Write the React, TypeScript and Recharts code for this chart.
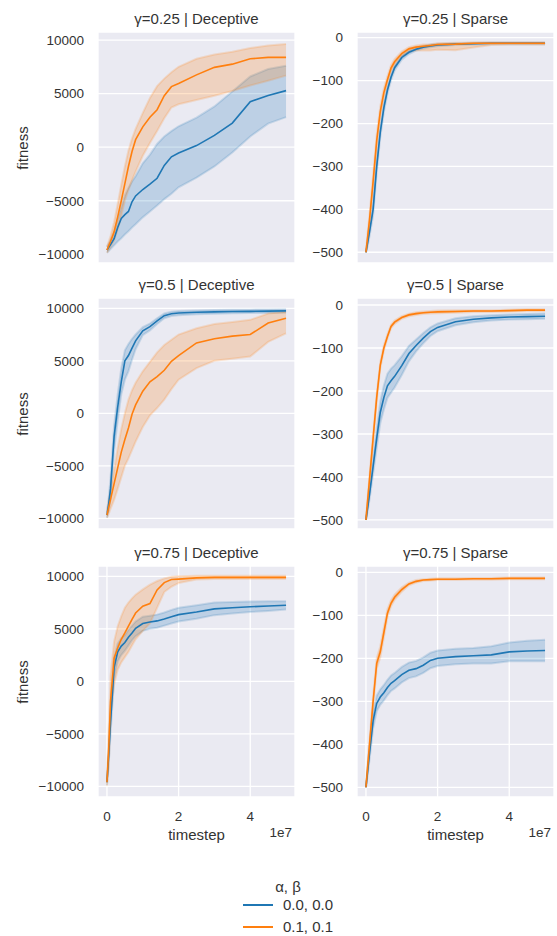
import React from 'react';
import { ComposedChart, Area, Line, XAxis, YAxis, CartesianGrid } from 'recharts';

const XS = [0, 0.05, 0.1, 0.2, 0.3, 0.4, 0.5, 0.6, 0.7, 0.8, 1.0, 1.2, 1.4, 1.6, 1.8, 2.0, 2.5, 3.0, 3.5, 4.0, 4.5, 5.0];
const X_TICKS = [0, 2, 4];
const DEC_TICKS = [-10000, -5000, 0, 5000, 10000];
const SPARSE_TICKS = [-500, -400, -300, -200, -100, 0];
const SERIES_LABELS = ['0.0, 0.0', '0.1, 0.1'];
const BLUE = '#1f77b4';
const ORANGE = '#ff7f0e';

// γ=0.25 | Deceptive
const g025DecBlueMean = [-9600, -9350, -9100, -8540, -7500, -6650, -6300, -6000, -5100, -4550, -3950, -3450, -2900, -1700, -900, -550, 150, 1100, 2250, 4250, 4830, 5280];
const g025DecBlueHigh = [-9300, -9000, -8700, -7900, -6700, -5600, -4500, -3800, -3200, -2700, -1500, -700, 300, 1000, 1500, 1950, 2750, 3800, 5200, 6600, 7300, 7610];
const g025DecBlueLow = [-9850, -9700, -9500, -9160, -8800, -8500, -8150, -7850, -7500, -7200, -6550, -6000, -5450, -4850, -4350, -3750, -2850, -1800, -500, 1000, 2200, 2800];
const g025DecOrangeMean = [-9600, -9200, -8800, -7900, -6500, -5000, -3400, -1800, -400, 700, 1900, 2800, 3500, 4800, 5650, 5950, 6750, 7450, 7750, 8250, 8380, 8380];
const g025DecOrangeHigh = [-9300, -8800, -8300, -7000, -5300, -3500, -1800, -300, 800, 1700, 3200, 4600, 5700, 6400, 7000, 7500, 8250, 8650, 8900, 9250, 9500, 9630];
const g025DecOrangeLow = [-9850, -9600, -9300, -8700, -7700, -6400, -5000, -4000, -3100, -2300, -800, 400, 1500, 2700, 3700, 4000, 4400, 4800, 5250, 5750, 6200, 6680];

// γ=0.25 | Sparse
const g025SpBlueMean = [-500, -476, -452, -400, -300, -220, -163, -122, -92, -70, -46, -34, -27, -22, -19, -17, -15, -14, -13, -13, -13, -13];
const g025SpBlueHigh = [-500, -468, -442, -386, -286, -208, -153, -114, -85, -64, -41, -30, -24, -19, -16, -14, -13, -12, -11, -11, -11, -11];
const g025SpBlueLow = [-500, -484, -462, -414, -314, -232, -173, -130, -99, -76, -51, -38, -30, -25, -22, -20, -17, -16, -15, -15, -15, -15];
const g025SpOrangeMean = [-500, -462, -424, -335, -240, -172, -128, -98, -71, -56, -37, -26, -22, -20, -18, -16, -15, -13, -13, -13, -13, -13];
const g025SpOrangeHigh = [-500, -452, -412, -321, -226, -160, -118, -90, -64, -50, -32, -22, -18, -16, -15, -13, -12, -11, -11, -11, -11, -11];
const g025SpOrangeLow = [-500, -472, -436, -349, -254, -184, -138, -106, -78, -62, -43, -32, -30, -30, -30, -28, -29, -23, -17, -16, -16, -16];

// γ=0.5 | Deceptive
const g05DecBlueMean = [-9700, -8600, -7200, -2200, 600, 3000, 5000, 5500, 6200, 6900, 7850, 8250, 8800, 9300, 9480, 9550, 9620, 9660, 9690, 9710, 9730, 9750];
const g05DecBlueHigh = [-9450, -8000, -6200, -1200, 1800, 4300, 6000, 6600, 7100, 7500, 8200, 8550, 9050, 9500, 9680, 9750, 9800, 9830, 9850, 9870, 9890, 9900];
const g05DecBlueLow = [-9950, -9200, -8200, -3500, -700, 1800, 3200, 4000, 5100, 6100, 7450, 7900, 8500, 9050, 9270, 9340, 9430, 9480, 9520, 9540, 9560, 9580];
const g05DecOrangeMean = [-9700, -8950, -8200, -6700, -5200, -3700, -2500, -1400, -100, 800, 2100, 3000, 3500, 4100, 4950, 5500, 6700, 7100, 7350, 7500, 8600, 9050];
const g05DecOrangeHigh = [-9400, -8400, -7400, -5400, -3300, -1500, 0, 1300, 2200, 2900, 4000, 4900, 5800, 6500, 7000, 7500, 8100, 8500, 8700, 8900, 9500, 9680];
const g05DecOrangeLow = [-9950, -9550, -9100, -8250, -7200, -6100, -5000, -4300, -3500, -2700, -1300, -200, 500, 1300, 2300, 3200, 4300, 5000, 5200, 5400, 6800, 7620];

// γ=0.5 | Sparse
const g05SpBlueMean = [-500, -470, -440, -375, -310, -250, -215, -188, -176, -166, -141, -113, -94, -77, -62, -52, -39, -33, -30, -28, -27, -26];
const g05SpBlueHigh = [-500, -462, -428, -357, -288, -225, -187, -160, -148, -140, -119, -95, -80, -65, -52, -43, -31, -26, -24, -22, -21, -20];
const g05SpBlueLow = [-500, -478, -452, -393, -332, -275, -243, -216, -204, -192, -163, -131, -108, -89, -72, -61, -47, -40, -36, -34, -33, -32];
const g05SpOrangeMean = [-500, -452, -405, -310, -215, -140, -100, -73, -50, -40, -29, -23, -20, -18, -17, -16, -15, -14, -14, -13, -12, -12];
const g05SpOrangeHigh = [-500, -446, -397, -302, -207, -133, -94, -68, -46, -36, -26, -20, -17, -15, -14, -13, -12, -12, -12, -11, -10, -10];
const g05SpOrangeLow = [-500, -458, -413, -318, -223, -147, -106, -78, -54, -44, -32, -26, -23, -21, -20, -19, -18, -16, -16, -15, -14, -14];

// γ=0.75 | Deceptive
const g075DecBlueMean = [-9620, -7000, -3900, 1300, 2800, 3350, 3700, 4200, 4600, 5050, 5500, 5650, 5750, 5940, 6150, 6350, 6600, 6900, 7000, 7100, 7170, 7240];
const g075DecBlueHigh = [-9350, -6300, -2800, 2300, 3600, 4100, 4400, 4900, 5300, 5700, 6150, 6250, 6350, 6550, 6800, 7000, 7250, 7500, 7550, 7600, 7620, 7620];
const g075DecBlueLow = [-9900, -7800, -5000, 300, 1900, 2500, 2900, 3400, 3900, 4300, 4800, 5000, 5100, 5300, 5500, 5700, 5950, 6300, 6450, 6600, 6700, 6830];
const g075DecOrangeMean = [-9620, -6400, -1900, 2200, 3175, 4000, 4600, 5250, 5900, 6500, 7150, 7400, 8700, 9400, 9690, 9730, 9850, 9900, 9900, 9900, 9900, 9900];
const g075DecOrangeHigh = [-9300, -4500, 500, 3800, 5240, 6200, 7000, 7500, 7900, 8250, 8750, 9200, 9550, 9800, 9950, 10000, 10050, 10050, 10050, 10050, 10050, 10050];
const g075DecOrangeLow = [-9950, -8000, -3200, -300, 1100, 1800, 2300, 2800, 3400, 4000, 4800, 5500, 7000, 8500, 9000, 9350, 9690, 9750, 9750, 9750, 9750, 9750];

// γ=0.75 | Sparse
const g075SpBlueMean = [-500, -460, -420, -345, -305, -290, -280, -268, -258, -252, -238, -228, -224, -216, -205, -200, -196, -194, -192, -185, -183, -182];
const g075SpBlueHigh = [-500, -450, -405, -327, -287, -272, -262, -250, -240, -234, -220, -210, -206, -198, -187, -182, -178, -176, -172, -163, -159, -157];
const g075SpBlueLow = [-500, -470, -435, -363, -323, -308, -298, -286, -276, -270, -256, -246, -242, -234, -223, -218, -214, -212, -212, -207, -207, -207];
const g075SpOrangeMean = [-500, -450, -400, -300, -212, -185, -140, -95, -72, -58, -40, -27, -21, -18, -17, -16, -16, -15, -15, -14, -14, -14];
const g075SpOrangeHigh = [-500, -442, -390, -288, -200, -172, -128, -86, -65, -52, -35, -24, -18, -16, -15, -14, -14, -13, -13, -12, -12, -12];
const g075SpOrangeLow = [-500, -458, -410, -312, -224, -198, -152, -104, -79, -64, -45, -30, -24, -20, -19, -18, -18, -17, -17, -16, -16, -16];

function build(bm: number[], bh: number[], bl: number[], om: number[], oh: number[], ol: number[]) {
  return XS.map((x, i) => ({
    x,
    bm: bm[i],
    bRange: [bl[i], bh[i]],
    om: om[i],
    oRange: [ol[i], oh[i]],
  }));
}

const FONT = '"Liberation Sans", Arial, "DejaVu Sans", sans-serif';
const TEXT = '#333333';
const PLOT_W = 197;
const PLOT_H = 231;
const TICK_FS = 13.5;
const LABEL_FS = 15;

const fmt = (v: number) => String(v).replace('-', '\u2212');

type PanelProps = {
  data: any[];
  title: string;
  plotLeft: number;
  plotTop: number;
  yDomain: [number, number];
  yTicks: number[];
  showX: boolean;
  showYLabel: boolean;
};

function Panel({ data, title, plotLeft, plotTop, yDomain, yTicks, showX, showYLabel }: PanelProps) {
  const yAxisW = 90;
  const chartLeft = plotLeft - yAxisW;
  const topM = 5;
  const xH = showX ? 30 : 0;
  const width = yAxisW + PLOT_W + 3;
  const height = topM + PLOT_H + xH;
  return (
    <>
      <div style={{ position: 'absolute', left: chartLeft, top: plotTop - topM, width, height }}>
        <ComposedChart width={width} height={height} data={data} margin={{ top: topM, right: 3, bottom: 0, left: 0 }}>
          <CartesianGrid fill="#EAEAF2" stroke="#ffffff" strokeWidth={1.3} />
          <XAxis
            dataKey="x"
            type="number"
            domain={[-0.25, 5.25]}
            ticks={X_TICKS}
            allowDataOverflow
            axisLine={false}
            tickLine={false}
            tickSize={0}
            tickMargin={14}
            height={xH}
            tick={showX ? { fill: TEXT, fontSize: TICK_FS, fontFamily: FONT } : false}
          />
          <YAxis
            type="number"
            domain={yDomain}
            ticks={yTicks}
            allowDataOverflow
            width={yAxisW}
            axisLine={false}
            tickLine={false}
            tickSize={0}
            tickMargin={14}
            tickFormatter={fmt}
            tick={{ fill: TEXT, fontSize: TICK_FS, fontFamily: FONT }}
          />
          <Area dataKey="bRange" type="linear" stroke={BLUE} strokeOpacity={0.18} strokeWidth={2} fill={BLUE} fillOpacity={0.22} isAnimationActive={false} />
          <Line dataKey="bm" type="linear" stroke={BLUE} strokeWidth={1.6} dot={false} isAnimationActive={false} />
          <Area dataKey="oRange" type="linear" stroke={ORANGE} strokeOpacity={0.18} strokeWidth={2} fill={ORANGE} fillOpacity={0.22} isAnimationActive={false} />
          <Line dataKey="om" type="linear" stroke={ORANGE} strokeWidth={1.6} dot={false} isAnimationActive={false} />
        </ComposedChart>
      </div>
      <div style={{ position: 'absolute', left: plotLeft - 20, width: PLOT_W + 40, top: plotTop - 22, textAlign: 'center', fontSize: LABEL_FS, lineHeight: '18px', fontFamily: FONT, color: TEXT, whiteSpace: 'nowrap' }}>
        {title}
      </div>
      {showYLabel && (
        <div style={{ position: 'absolute', left: 23 - 40, top: plotTop + PLOT_H / 2 - 9, width: 80, height: 18, lineHeight: '18px', textAlign: 'center', transform: 'rotate(-90deg)', fontSize: LABEL_FS, fontFamily: FONT, color: TEXT }}>
          fitness
        </div>
      )}
      {showX && (
        <>
          <div style={{ position: 'absolute', left: plotLeft, width: PLOT_W, top: plotTop + PLOT_H + 29, textAlign: 'center', fontSize: LABEL_FS, lineHeight: '18px', fontFamily: FONT, color: TEXT }}>
            timestep
          </div>
          <div style={{ position: 'absolute', left: plotLeft + PLOT_W - 60, width: 57, top: plotTop + PLOT_H + 27, textAlign: 'right', fontSize: TICK_FS, lineHeight: '18px', fontFamily: FONT, color: TEXT }}>
            1e7
          </div>
        </>
      )}
    </>
  );
}

export default function App() {
  const L = 98;
  const R = 357;
  const rows = [32, 298, 566];
  return (
    <div style={{ position: 'absolute', left: 0, top: 0, width: 557, height: 936, background: '#ffffff', fontFamily: FONT }}>
      <Panel data={build(g025DecBlueMean, g025DecBlueHigh, g025DecBlueLow, g025DecOrangeMean, g025DecOrangeHigh, g025DecOrangeLow)} title="γ=0.25 | Deceptive" plotLeft={L} plotTop={rows[0]} yDomain={[-10810, 10750]} yTicks={DEC_TICKS} showX={false} showYLabel />
      <Panel data={build(g025SpBlueMean, g025SpBlueHigh, g025SpBlueLow, g025SpOrangeMean, g025SpOrangeHigh, g025SpOrangeLow)} title="γ=0.25 | Sparse" plotLeft={R} plotTop={rows[0]} yDomain={[-525, 13.3]} yTicks={SPARSE_TICKS} showX={false} showYLabel={false} />
      <Panel data={build(g05DecBlueMean, g05DecBlueHigh, g05DecBlueLow, g05DecOrangeMean, g05DecOrangeHigh, g05DecOrangeLow)} title="γ=0.5 | Deceptive" plotLeft={L} plotTop={rows[1]} yDomain={[-11020, 10980]} yTicks={DEC_TICKS} showX={false} showYLabel />
      <Panel data={build(g05SpBlueMean, g05SpBlueHigh, g05SpBlueLow, g05SpOrangeMean, g05SpOrangeHigh, g05SpOrangeLow)} title="γ=0.5 | Sparse" plotLeft={R} plotTop={rows[1]} yDomain={[-521, 16.3]} yTicks={SPARSE_TICKS} showX={false} showYLabel={false} />
      <Panel data={build(g075DecBlueMean, g075DecBlueHigh, g075DecBlueLow, g075DecOrangeMean, g075DecOrangeHigh, g075DecOrangeLow)} title="γ=0.75 | Deceptive" plotLeft={L} plotTop={rows[2]} yDomain={[-11020, 10980]} yTicks={DEC_TICKS} showX showYLabel />
      <Panel data={build(g075SpBlueMean, g075SpBlueHigh, g075SpBlueLow, g075SpOrangeMean, g075SpOrangeHigh, g075SpOrangeLow)} title="γ=0.75 | Sparse" plotLeft={R} plotTop={rows[2]} yDomain={[-522.6, 14.7]} yTicks={SPARSE_TICKS} showX showYLabel={false} />

      <div style={{ position: 'absolute', left: 238, width: 100, top: 878, textAlign: 'center', fontSize: LABEL_FS, lineHeight: '18px', fontFamily: FONT, color: TEXT }}>
        α, β
      </div>
      {SERIES_LABELS.map((label, i) => (
        <div key={label} style={{ position: 'absolute', left: 243, top: 896 + i * 22, height: 18, display: 'flex', alignItems: 'center', fontSize: LABEL_FS, lineHeight: '18px', fontFamily: FONT, color: TEXT }}>
          <svg width={30} height={18} style={{ display: 'block' }}>
            <line x1={0} y1={9} x2={30} y2={9} stroke={i === 0 ? BLUE : ORANGE} strokeWidth={2} />
          </svg>
          <span style={{ marginLeft: 10, whiteSpace: 'nowrap' }}>{label}</span>
        </div>
      ))}
    </div>
  );
}
